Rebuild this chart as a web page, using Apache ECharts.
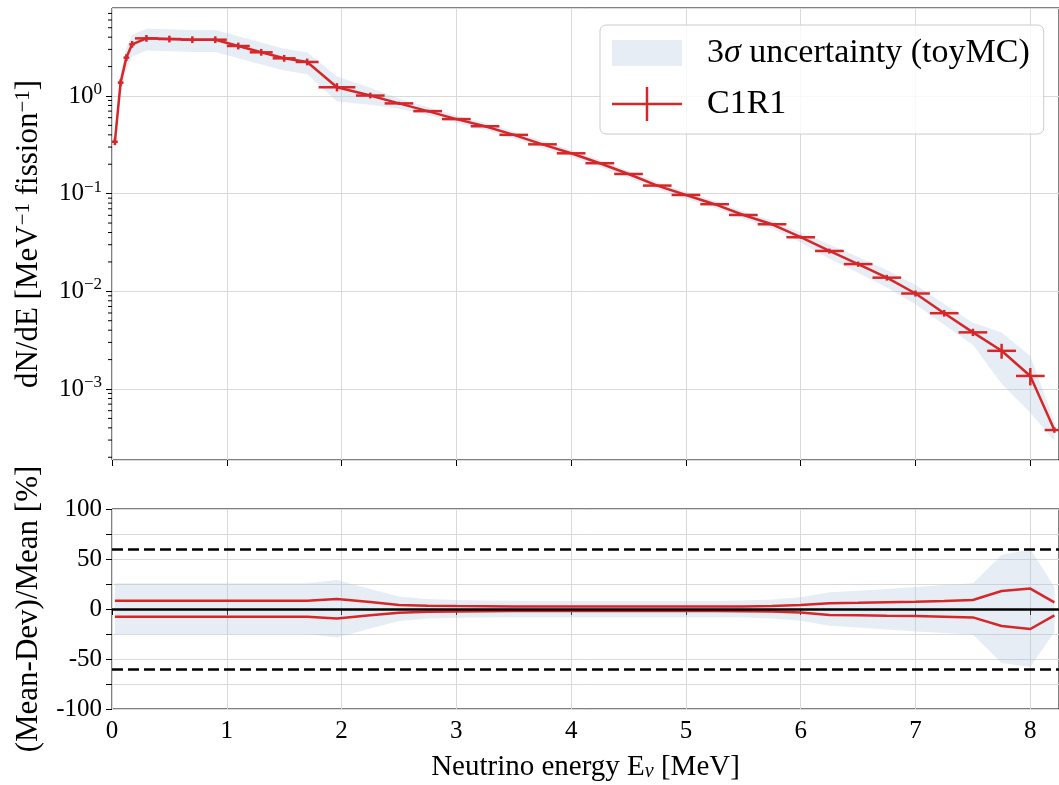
<!DOCTYPE html>
<html>
<head>
<meta charset="utf-8">
<script src="https://cdn.jsdelivr.net/npm/echarts@6/dist/echarts.min.js"></script>
<style>
html,body{margin:0;padding:0;background:#fff;}
#chart{width:1059px;height:785px;}
</style>
</head>
<body>
<div id="chart"></div>
<script>
// ---- data ----
const energies = [0.025, 0.075, 0.125, 0.175, 0.3, 0.5, 0.7, 0.9, 1.1, 1.3, 1.5, 1.7, 1.96,
  2.25, 2.5, 2.75, 3.0, 3.25, 3.5, 3.75, 4.0, 4.25, 4.5, 4.75, 5.0, 5.25, 5.5, 5.75,
  6.0, 6.25, 6.5, 6.75, 7.0, 7.25, 7.5, 7.75, 8.0, 8.21];
const binHalfWidth = [0.025, 0.025, 0.025, 0.025, 0.1, 0.1, 0.1, 0.1, 0.1, 0.1, 0.1, 0.1, 0.16,
  0.125, 0.125, 0.125, 0.125, 0.125, 0.125, 0.125, 0.125, 0.125, 0.125, 0.125, 0.125, 0.125, 0.125, 0.125,
  0.125, 0.125, 0.125, 0.125, 0.125, 0.125, 0.125, 0.125, 0.125, 0.085];
const c1r1 = [0.34, 1.37, 2.47, 3.38, 3.89, 3.83, 3.77, 3.77, 3.25, 2.80, 2.43, 2.23, 1.23,
  1.01, 0.84, 0.70, 0.58, 0.49, 0.40, 0.32, 0.259, 0.205, 0.159, 0.121, 0.097, 0.078, 0.0605, 0.0486,
  0.0358, 0.0259, 0.019, 0.0138, 0.0095, 0.00597, 0.0038, 0.00246, 0.00136, 0.00038];
// relative deviation (%) : red curves of lower panel (also vertical error bars)
const devUp = [8.3, 8.3, 8.3, 8.3, 8.3, 8.3, 8.3, 8.3, 8.3, 8.3, 8.3, 8.3, 10,
  7, 4, 3.3, 3, 2.8, 2.6, 2.4, 2.4, 2.4, 2.4, 2.4, 2.4, 2.4, 2.6, 3.0,
  4, 5.7, 6.2, 6.8, 7.3, 8, 9, 18, 20.4, 6.7];
const devLo = [-7.7, -7.7, -7.7, -7.7, -7.7, -7.7, -7.7, -7.7, -7.7, -7.7, -7.7, -7.7, -9.5,
  -6.3, -3.7, -2.8, -2.5, -2.3, -2.1, -2.0, -2.0, -2.0, -2.0, -2.0, -2.0, -2.0, -2.2, -2.6,
  -3.4, -6, -6.3, -6.7, -7, -7.7, -8.4, -17, -20, -6.3];
// 3 sigma toyMC band (%)
const bandUp = [25.7, 25.7, 25.7, 25.7, 25.7, 25.7, 25.7, 25.7, 25.7, 25.7, 25.7, 25.7, 29,
  20, 12.4, 10, 9, 8.5, 8.3, 8, 8, 8, 8, 8, 8, 8, 8.5, 9.5,
  11.7, 16.7, 18.3, 20, 22, 24, 25.8, 54, 60, 22];
const bandLo = [-25, -25, -25, -25, -25, -25, -25, -25, -25, -25, -25, -25, -28.5,
  -19.5, -12, -9.5, -8.7, -8.5, -8.3, -8.3, -8.3, -8.3, -8.3, -8.3, -8.3, -8.3, -8.5, -9.5,
  -11.7, -16.7, -18.5, -20.5, -22.5, -24, -25.4, -54, -58, -23];
const refLevels = [60, -60];
const xTicks = [0, 1, 2, 3, 4, 5, 6, 7, 8];
const logDecades = [-4, -3, -2, -1, 0];
const minorMult = [2, 3, 4, 5, 6, 7, 8, 9];

// ---- styling ----
const RED = '#d62728';
const BAND = 'rgba(176,196,222,0.3)';
const GRIDC = '#d9d9d9';
const FONT = '"Liberation Serif", "DejaVu Serif", serif';
const X_MAX = 8.25, Y_MIN = 1.875e-4, Y_MAX = 7.96;

const minorTicks = [];
logDecades.forEach(d => minorMult.forEach(m => {
  const v = m * Math.pow(10, d);
  if (v > Y_MIN && v < Y_MAX) minorTicks.push([0, v]);
}));

const chart = echarts.init(document.getElementById('chart'), null, {renderer: 'canvas'});

function bandPolygon(params, api, lowerFn, upperFn) {
  if (params.dataIndex !== 0) return null;
  const pts = [];
  for (let i = 0; i < energies.length; i++) pts.push(api.coord([energies[i], upperFn(i)]));
  for (let i = energies.length - 1; i >= 0; i--) pts.push(api.coord([energies[i], lowerFn(i)]));
  return {type: 'polygon', shape: {points: pts}, style: {fill: BAND, stroke: null}};
}

const supRich = {
  b: {fontFamily: FONT, fontSize: 25, color: '#000', lineHeight: 30},
  sup: {fontFamily: FONT, fontSize: 17, color: '#000', verticalAlign: 'top', lineHeight: 17}
};

const option = {
  animation: false,
  backgroundColor: '#fff',
  grid: [
    {left: 112, right: 0, top: 8, height: 452, show: true, borderColor: '#000', borderWidth: 1, backgroundColor: 'transparent'},
    {left: 112, right: 0, top: 509, height: 200, show: true, borderColor: '#000', borderWidth: 1, backgroundColor: 'transparent'}
  ],
  legend: {
    orient: 'vertical', left: 600, top: 25,
    padding: [11, 14, 13, 12],
    itemWidth: 70, itemHeight: 34, itemGap: 17,
    backgroundColor: 'rgba(255,255,255,0.8)', borderColor: '#cccccc', borderWidth: 1, borderRadius: 6,
    textStyle: {fontFamily: FONT, fontSize: 34, color: '#000', padding: [0, 0, 0, 20],
      rich: {n: {fontFamily: FONT, fontSize: 34, color: '#000'}, i: {fontFamily: FONT, fontSize: 34, fontStyle: 'italic', color: '#000'}}},
    formatter: function (name) {
      if (name.indexOf('uncertainty') >= 0) return '{n|3}{i|σ}{n| uncertainty (toyMC)}';
      return '{n|' + name + '}';
    },
    data: [
      {name: '3σ uncertainty (toyMC)', icon: 'path://M0,0h0.01v0.01h-0.01z M0,4h70v26h-70z M69.99,33.99h0.01v0.01h-0.01z', itemStyle: {color: 'rgba(176,196,222,0.3)'}},
      {name: 'C1R1', icon: 'path://M0,15.75h70v2.5h-70z M33.75,0h2.5v34h-2.5z', itemStyle: {color: RED}}
    ]
  },
  xAxis: [
    {type: 'value', gridIndex: 0, min: 0, max: X_MAX, interval: 1,
      axisLine: {show: false}, axisTick: {show: true, length: 6, lineStyle: {color: '#000', width: 1}},
      axisLabel: {show: false}, splitLine: {show: true, lineStyle: {color: GRIDC, width: 1}}},
    {type: 'value', gridIndex: 1, min: 0, max: X_MAX, interval: 1,
      axisLine: {show: false}, axisTick: {show: true, length: 6, lineStyle: {color: '#000', width: 1}},
      axisLabel: {show: true, margin: 10, showMaxLabel: false, fontFamily: FONT, fontSize: 25, color: '#000',
        formatter: v => (xTicks.indexOf(v) >= 0 ? String(v) : '')},
      splitLine: {show: true, lineStyle: {color: GRIDC, width: 1}},
      name: 'Neutrino energy E{sub|ν} [MeV]', nameLocation: 'middle', nameGap: 44,
      nameTextStyle: {fontFamily: FONT, fontSize: 29, color: '#000',
        rich: {sub: {fontFamily: FONT, fontSize: 20, fontStyle: 'italic', color: '#000', verticalAlign: 'bottom', lineHeight: 18}}}}
  ],
  yAxis: [
    {type: 'log', logBase: 10, gridIndex: 0, min: Y_MIN, max: Y_MAX,
      axisLine: {show: false}, axisTick: {show: true, length: 6, lineStyle: {color: '#000', width: 1}},
      minorTick: {show: false}, splitLine: {show: true, lineStyle: {color: GRIDC, width: 1}},
      axisLabel: {show: true, margin: 10, showMinLabel: false, showMaxLabel: false, rich: supRich,
        formatter: function (v) {
          const e = Math.round(Math.log10(v));
          return '{b|10}{sup|' + (e < 0 ? '−' + (-e) : String(e)) + '}';
        }},
      name: 'dN/dE [MeV{sup|−1} fission{sup|−1}]', nameLocation: 'middle', nameGap: 68,
      nameTextStyle: {fontFamily: FONT, fontSize: 31, color: '#000',
        rich: {sup: {fontFamily: FONT, fontSize: 21, color: '#000', verticalAlign: 'top', lineHeight: 20}}}},
    {type: 'value', gridIndex: 1, min: -100, max: 100, interval: 25,
      axisLine: {show: false}, axisTick: {show: true, length: 6, lineStyle: {color: '#000', width: 1}},
      splitLine: {show: true, lineStyle: {color: GRIDC, width: 1}},
      axisLabel: {show: true, margin: 10, fontFamily: FONT, fontSize: 25, color: '#000',
        formatter: v => (v % 50 === 0 ? String(v) : '')},
      name: '(Mean-Dev)/Mean [%]', nameLocation: 'middle', nameGap: 68,
      nameTextStyle: {fontFamily: FONT, fontSize: 31, color: '#000'}}
  ],
  series: [
    {name: '3σ uncertainty (toyMC)', type: 'custom', xAxisIndex: 0, yAxisIndex: 0, z: 2,
      itemStyle: {color: BAND},
      data: energies.map((x, i) => [x, c1r1[i]]),
      renderItem: (params, api) => bandPolygon(params, api,
        i => c1r1[i] * (1 + bandLo[i] / 100), i => c1r1[i] * (1 + bandUp[i] / 100))},
    {name: 'minor ticks', type: 'custom', xAxisIndex: 0, yAxisIndex: 0, z: 5, silent: true,
      data: minorTicks,
      renderItem: function (params, api) {
        const p = api.coord([api.value(0), api.value(1)]);
        return {type: 'line', shape: {x1: p[0] - 4, y1: p[1], x2: p[0], y2: p[1]}, style: {stroke: '#000', lineWidth: 1}};
      }},
    {name: 'C1R1 line', type: 'line', xAxisIndex: 0, yAxisIndex: 0, z: 4,
      data: energies.map((x, i) => [x, c1r1[i]]),
      showSymbol: false, symbol: 'none', lineStyle: {color: RED, width: 2.5}},
    {name: 'C1R1', type: 'custom', xAxisIndex: 0, yAxisIndex: 0, z: 4,
      itemStyle: {color: RED},
      data: energies.map((x, i) => [x, c1r1[i], binHalfWidth[i], devUp[i], devLo[i]]),
      encode: {x: 0, y: 1},
      renderItem: function (params, api) {
        const x = api.value(0), y = api.value(1), xe = api.value(2), up = api.value(3), lo = api.value(4);
        const pL = api.coord([x - xe, y]), pR = api.coord([x + xe, y]);
        const pT = api.coord([x, y * (1 + up / 100)]), pB = api.coord([x, y * (1 + lo / 100)]);
        return {type: 'group', children: [
          {type: 'line', shape: {x1: pL[0], y1: pL[1], x2: pR[0], y2: pR[1]}, style: {stroke: RED, lineWidth: 2.5}},
          {type: 'line', shape: {x1: pT[0], y1: pT[1], x2: pB[0], y2: pB[1]}, style: {stroke: RED, lineWidth: 2.5}}
        ]};
      }},
    {name: 'ratio band', type: 'custom', xAxisIndex: 1, yAxisIndex: 1, z: 2,
      data: energies.map((x, i) => [x, bandUp[i]]),
      renderItem: (params, api) => bandPolygon(params, api, i => bandLo[i], i => bandUp[i])},
    {name: 'dev up', type: 'line', xAxisIndex: 1, yAxisIndex: 1, z: 4,
      data: energies.map((x, i) => [x, devUp[i]]),
      showSymbol: false, symbol: 'none', lineStyle: {color: RED, width: 2.5},
      markLine: {silent: true, symbol: ['none', 'none'], label: {show: false}, z: 5,
        data: [{yAxis: 0, lineStyle: {color: '#000', type: 'solid', width: 2.5}}]
          .concat(refLevels.map(v => ({yAxis: v, lineStyle: {color: '#000', type: [11, 5], width: 2.5}})))}},
    {name: 'dev lo', type: 'line', xAxisIndex: 1, yAxisIndex: 1, z: 4,
      data: energies.map((x, i) => [x, devLo[i]]),
      showSymbol: false, symbol: 'none', lineStyle: {color: RED, width: 2.5}}
  ]
};
chart.setOption(option);
</script>
</body>
</html>
